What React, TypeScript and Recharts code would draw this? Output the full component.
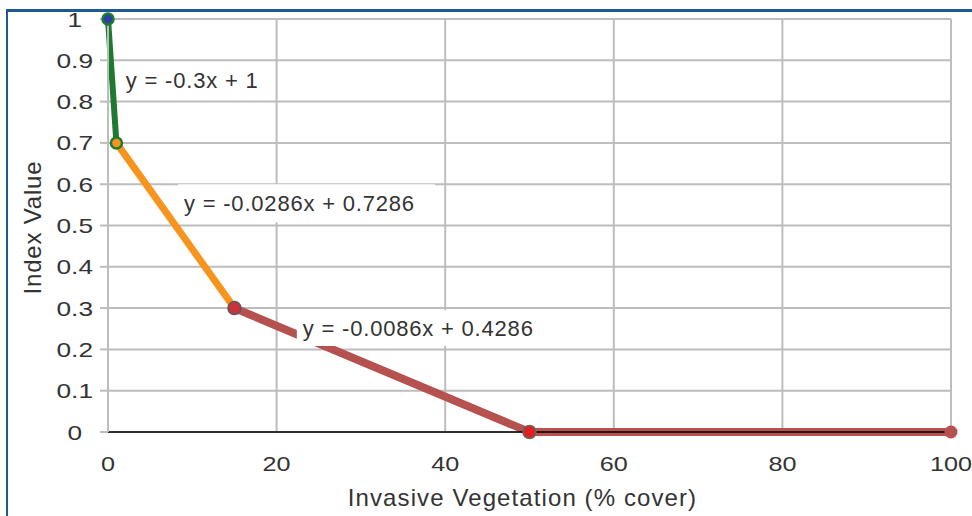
import React from 'react';
import {
  LineChart,
  Line,
  XAxis,
  YAxis,
  CartesianGrid,
  ReferenceArea,
} from 'recharts';

// piecewise index curve
const segmentHigh = [
  { x: 0, y: 1 },
  { x: 1, y: 0.7 },
];
const segmentMid = [
  { x: 1, y: 0.7 },
  { x: 15, y: 0.3 },
];
const segmentLow = [
  { x: 15, y: 0.3 },
  { x: 50, y: 0 },
  { x: 100, y: 0 },
];

const xTicks = [0, 20, 40, 60, 80, 100];
const yTicks = [0, 0.1, 0.2, 0.3, 0.4, 0.5, 0.6, 0.7, 0.8, 0.9, 1];

const equations = ['y = -0.3x + 1', 'y = -0.0286x + 0.7286', 'y = -0.0086x + 0.4286'];

// white label boxes, in data units
const labelBoxes = [
  { x1: 1.4, x2: 19, y1: 0.809, y2: 0.891 },
  { x1: 8.3, x2: 38.8, y1: 0.508, y2: 0.6 },
  { x1: 22.4, x2: 52, y1: 0.208, y2: 0.295 },
];

const FONT = '"Liberation Sans", Arial, Helvetica, sans-serif';
const TEXT = '#333333';
const GRID = '#bdbdbd';
const GREEN = '#1e7a30';
const ORANGE = '#f7941d';
const RED = '#b5524f';

const highDotFill = ['#2b3fa6', ORANGE];
const lowDotStyle = [
  { fill: '#c8323a', stroke: '#5a5a5a' },
  { fill: '#e0201e', stroke: '#666666' },
  { fill: RED, stroke: 'none' },
];

const HighDot = (props: any) => {
  const { cx, cy, index } = props;
  return <circle key={`h${index}`} cx={cx} cy={cy} r={5.5} fill={highDotFill[index]} stroke={GREEN} strokeWidth={2.5} />;
};

const LowDot = (props: any) => {
  const { cx, cy, index } = props;
  const s = lowDotStyle[index];
  return <circle key={`l${index}`} cx={cx} cy={cy} r={6.5} fill={s.fill} stroke={s.stroke} strokeWidth={1.5} />;
};

const EqLabel = (props: any) => {
  const { viewBox, text } = props;
  if (!viewBox) return null;
  return (
    <text
      x={viewBox.x + 6}
      y={viewBox.y + viewBox.height / 2}
      dominantBaseline="central"
      fontSize={22}
      letterSpacing={0.8}
      fontFamily={FONT}
      fill={TEXT}
    >
      {text}
    </text>
  );
};

const YTick = (props: any) => {
  const { x, y, payload } = props;
  const v = payload.value;
  const whole = Number.isInteger(v);
  const tx = whole ? x - 11 : x;
  return (
    <text
      x={0}
      y={0}
      transform={`translate(${tx}, ${y}) scale(1.25, 1)`}
      textAnchor="end"
      dominantBaseline="central"
      fontSize={21}
      fontFamily={FONT}
      fill={TEXT}
    >
      {String(Math.round(v * 10) / 10)}
    </text>
  );
};

const XTick = (props: any) => {
  const { x, y, payload } = props;
  return (
    <text
      x={0}
      y={0}
      transform={`translate(${x}, ${y + 30}) scale(1.2, 1)`}
      textAnchor="middle"
      dominantBaseline="central"
      fontSize={21}
      fontFamily={FONT}
      fill={TEXT}
    >
      {payload.value}
    </text>
  );
};

const YLabel = (props: any) => {
  const { viewBox } = props;
  const cy = viewBox.y + viewBox.height / 2 + 2;
  return (
    <text x={32} y={cy} transform={`rotate(-90, 32, ${cy})`} textAnchor="middle" dominantBaseline="central" fontSize={24} letterSpacing={0.8} fontFamily={FONT} fill={TEXT}>
      Index Value
    </text>
  );
};

const XLabel = (props: any) => {
  const { viewBox } = props;
  const cx = viewBox.x + viewBox.width / 2 - 7;
  return (
    <text x={cx} y={497} textAnchor="middle" dominantBaseline="central" fontSize={24} letterSpacing={1.1} fontFamily={FONT} fill={TEXT}>
      Invasive Vegetation (% cover)
    </text>
  );
};

export default function App() {
  return (
    <div style={{ position: 'absolute', left: 0, top: 0, width: 972, height: 516, background: '#fff' }}>
      {/* frame edges seen in the source image */}
      <div
        style={{
          position: 'absolute',
          left: 6,
          top: 9,
          right: 0,
          bottom: 0,
          borderLeft: '2.5px solid #1d5a92',
          borderTop: '3px solid #1d5a92',
        }}
      />
      <div style={{ position: 'absolute', left: 0, top: 0 }}>
        <LineChart width={972} height={516} margin={{ top: 19, right: 21, bottom: 0, left: 0 }} style={{ fontFamily: FONT }}>
          <CartesianGrid stroke={GRID} strokeWidth={2} />
          <XAxis
            type="number"
            dataKey="x"
            domain={[0, 100]}
            ticks={xTicks}
            height={84}
            tickLine={false}
            tickSize={0}
            axisLine={{ stroke: '#000', strokeWidth: 1.5 }}
            tick={<XTick />}
            label={<XLabel />}
            allowDuplicatedCategory={false}
          />
          <YAxis
            type="number"
            domain={[0, 1]}
            ticks={yTicks}
            width={108}
            tickSize={8}
            tickMargin={7}
            tickLine={{ stroke: GRID, strokeWidth: 2 }}
            axisLine={{ stroke: GRID, strokeWidth: 2 }}
            tick={<YTick />}
            label={<YLabel />}
          />
          <Line data={segmentHigh} dataKey="y" stroke={GREEN} strokeWidth={6} dot={<HighDot />} isAnimationActive={false} />
          <Line data={segmentMid} dataKey="y" stroke={ORANGE} strokeWidth={7} dot={false} isAnimationActive={false} />
          <Line data={segmentLow} dataKey="y" stroke={RED} strokeWidth={8} dot={<LowDot />} isAnimationActive={false} />
          {labelBoxes.map((b, i) => (
            <ReferenceArea
              key={i}
              x1={b.x1}
              x2={b.x2}
              y1={b.y1}
              y2={b.y2}
              fill="#ffffff"
              fillOpacity={1}
              stroke="none"
              ifOverflow="visible"
              zIndex={1500}
              label={<EqLabel text={equations[i]} />}
            />
          ))}
        </LineChart>
      </div>
    </div>
  );
}
